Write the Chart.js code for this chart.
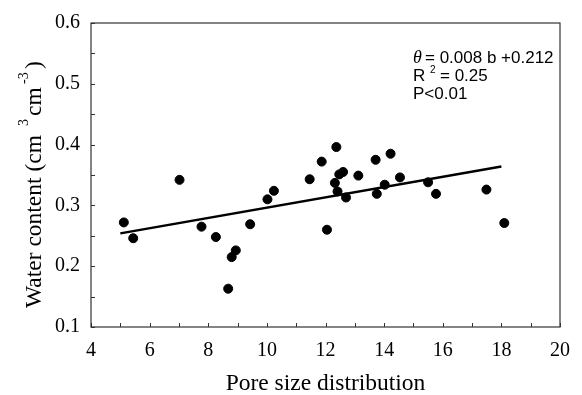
<!DOCTYPE html>
<html><head><meta charset="utf-8">
<script src="https://cdn.jsdelivr.net/npm/chart.js@4.4.1/dist/chart.umd.min.js"></script>
<style>html,body{margin:0;padding:0;background:#fff}#wrap{width:582px;height:395px}</style>
</head><body><div id="wrap"><canvas id="c" width="582" height="395"></canvas></div>
<script>
const poreSize = [5.12,5.44,7.02,7.77,8.26,8.94,8.80,8.68,9.43,10.02,10.24,11.46,11.87,12.37,12.05,12.32,12.41,12.47,12.60,12.70,13.12,13.71,13.75,14.02,14.22,14.54,15.50,15.77,17.49,18.10];
const waterContent = [0.272,0.246,0.342,0.265,0.248,0.226,0.215,0.163,0.269,0.310,0.324,0.343,0.372,0.396,0.260,0.337,0.323,0.351,0.355,0.313,0.349,0.375,0.319,0.334,0.385,0.346,0.338,0.319,0.326,0.271];
const fitX = [5.0, 18.0];
const fitY = [0.254, 0.364];
const xTickLabels = [4,6,8,10,12,14,16,18,20];
const yTickLabels = [0.1,0.2,0.3,0.4,0.5,0.6];
const equationLines = ["= 0.008 b +0.212", "= 0.25", "P<0.01"];
const xTitle = "Pore size distribution";

const serif = '"Liberation Serif", "Times New Roman", serif';
const sans = '"Liberation Sans", Arial, sans-serif';

const decor = {
  id: 'decor',
  afterDraw(chart) {
    const ctx = chart.ctx, a = chart.chartArea;
    const xs = chart.scales.x, ys = chart.scales.y;
    ctx.save();
    ctx.strokeStyle = '#333'; ctx.lineWidth = 1.2;
    ctx.strokeRect(a.left, a.top, a.right - a.left, a.bottom - a.top);
    ctx.lineWidth = 1;
    for (let v = 4; v <= 20; v += 1) {
      const px = Math.round(xs.getPixelForValue(v)) + 0.5;
      ctx.beginPath(); ctx.moveTo(px, a.bottom); ctx.lineTo(px, a.bottom - 4); ctx.stroke();
    }
    for (let i = 0; i <= 10; i++) {
      const v = 0.1 + i * 0.05;
      const py = Math.round(ys.getPixelForValue(v)) + 0.5;
      ctx.beginPath(); ctx.moveTo(a.left, py); ctx.lineTo(a.left + 4, py); ctx.stroke();
    }
    // y title with superscripts
    ctx.fillStyle = '#000';
    ctx.translate(41, 308);
    ctx.rotate(-Math.PI / 2);
    ctx.textBaseline = 'alphabetic';
    const big = '23.5px ' + serif, small = '14px ' + serif;
    ctx.font = big; ctx.fillText('Water content (cm', 0, 0);
    ctx.font = small; ctx.fillText('3', 182, -13);
    ctx.font = big; ctx.fillText('cm', 192, 0);
    ctx.font = small; ctx.fillText('-3', 224, -13);
    ctx.font = big; ctx.fillText(')', 239, 0);
    ctx.restore();

    // equation annotation
    ctx.save();
    ctx.fillStyle = '#000';
    ctx.textBaseline = 'alphabetic';
    const tx = 413;
    ctx.font = 'italic 18px ' + serif;
    ctx.fillText('θ', tx, 63);
    ctx.font = '17px ' + sans;
    ctx.fillText(equationLines[0], tx + 12, 63);
    ctx.fillText('R', tx, 81);
    ctx.font = '10px ' + sans;
    ctx.fillText('2', tx + 17, 73);
    ctx.font = '17px ' + sans;
    ctx.fillText(equationLines[1], tx + 27, 81);
    ctx.fillText(equationLines[2], tx, 99);
    ctx.restore();
  }
};

new Chart(document.getElementById('c'), {
  type: 'scatter',
  data: {
    datasets: [
      { data: poreSize.map((v, i) => ({x: v, y: waterContent[i]})), backgroundColor: '#000', borderColor: '#000', pointRadius: 4.5, pointHoverRadius: 4.5 },
      { type: 'line', data: fitX.map((v, i) => ({x: v, y: fitY[i]})), borderColor: '#000', borderWidth: 2.5, pointRadius: 0, showLine: true, fill: false }
    ]
  },
  options: {
    responsive: false, animation: false, devicePixelRatio: 1,
    layout: { padding: { left: 0, top: 16, right: 14, bottom: 0 } },
    plugins: { legend: { display: false }, tooltip: { enabled: false } },
    scales: {
      x: {
        type: 'linear', min: 4, max: 20,
        afterBuildTicks: s => { s.ticks = xTickLabels.map(v => ({value: v})); },
        afterFit: s => { s.height = 68; },
        grid: { display: false, drawTicks: false },
        border: { display: false },
        ticks: { color: '#000', font: { family: serif, size: 20 }, padding: 12, maxRotation: 0, callback: v => String(v) },
        title: { display: true, text: xTitle, color: '#000', font: { family: serif, size: 23.5 }, padding: { top: 4, bottom: -3 } }
      },
      y: {
        type: 'linear', min: 0.1, max: 0.6,
        afterBuildTicks: s => { s.ticks = yTickLabels.map(v => ({value: v})); },
        afterFit: s => { s.width = 91; },
        grid: { display: false, drawTicks: false },
        border: { display: false },
        ticks: { color: '#000', font: { family: serif, size: 20 }, padding: 11, callback: v => Number(v).toFixed(1) }
      }
    }
  },
  plugins: [decor]
});
</script></body></html>
